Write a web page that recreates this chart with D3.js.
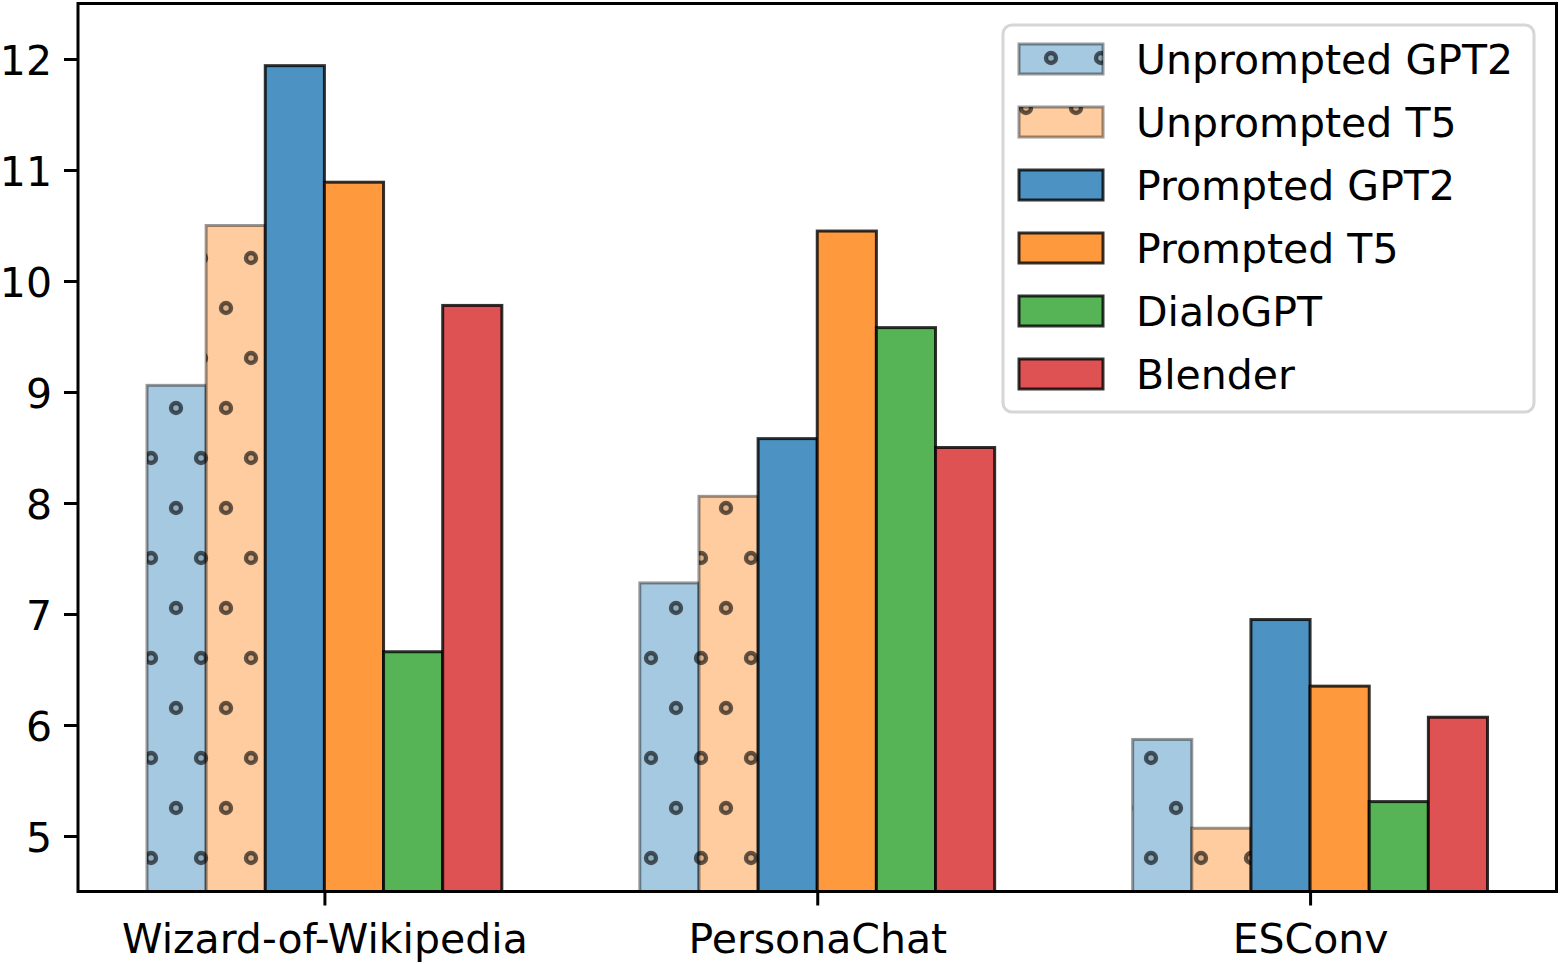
<!DOCTYPE html>
<html>
<head>
<meta charset="utf-8">
<script src="https://cdn.jsdelivr.net/npm/d3@7"></script>
<style>
    body { margin: 0; background: #fff; }
    svg { display: block; }
</style>
</head>
<body>
<script>
// #region DATA
var datasets = ["Wizard-of-Wikipedia", "PersonaChat", "ESConv"];
var models = ["Unprompted GPT2", "Unprompted T5", "Prompted GPT2", "Prompted T5", "DialoGPT", "Blender"];

var unpromptedGPT2 = [9.06, 7.28, 5.87];
var unpromptedT5   = [10.50, 8.06, 5.07];
var promptedGPT2   = [11.94, 8.58, 6.95];
var promptedT5     = [10.89, 10.45, 6.35];
var dialoGPT       = [6.66, 9.58, 5.31];
var blender        = [9.78, 8.50, 6.07];

var yTicks = [5, 6, 7, 8, 9, 10, 11, 12];
// #endregion

var seriesValues = [unpromptedGPT2, unpromptedT5, promptedGPT2, promptedT5, dialoGPT, blender];
var baseColors = ["#1f77b4", "#ff7f0e", "#1f77b4", "#ff7f0e", "#2ca02c", "#d62728"];
var hatched = [true, true, false, false, false, false];

// matplotlib alpha blended over white
var blend = function(hex, a) {
    var c = d3.rgb(hex);
    return d3.rgb(c.r * a + 255 * (1 - a), c.g * a + 255 * (1 - a), c.b * a + 255 * (1 - a)).formatHex();
};

var series = models.map(function(m, i) {
    return {
        name: m,
        i: i,
        values: seriesValues[i],
        fill: blend(baseColors[i], hatched[i] ? 0.4 : 0.8),
        edgeOpacity: hatched[i] ? 0.4 : 0.8,
        hatch: hatched[i]
    };
});

// #region SETUP
var width = 1560, height = 964;
var plotLeft = 78, plotRight = 1556.5, plotTop = 3.5, plotBottom = 891.5;
var font = "'DejaVu Sans', sans-serif";
var fontSize = "41px";

var svg = d3.select("body")
    .append("svg")
    .attr("width", width)
    .attr("height", height);

// dotted hatch, anchored to the figure
var defs = svg.append("defs");
var pat = defs.append("pattern")
    .attr("id", "dots")
    .attr("patternUnits", "userSpaceOnUse")
    .attr("x", 126)
    .attr("y", 783)
    .attr("width", 50)
    .attr("height", 100);

[[25, 75], [0, 25], [50, 25], [25, -25], [25, 175]].forEach(function(p) {
    pat.append("circle")
        .attr("cx", p[0])
        .attr("cy", p[1])
        .attr("r", 5)
        .attr("fill", "#000")
        .attr("fill-opacity", 0.15)
        .attr("stroke", "#000")
        .attr("stroke-opacity", 0.6)
        .attr("stroke-width", 4.4);
});

var x = d3.scaleLinear()
    .domain([-0.5, 2.5])
    .range([plotLeft, plotRight]);

var y = d3.scaleLinear()
    .domain([4.5, 12.5])
    .range([plotBottom, plotTop]);

var barW = 0.12;
// #endregion

// #region BARS
var clip = defs.append("clipPath").attr("id", "plot-clip");
clip.append("rect")
    .attr("x", plotLeft)
    .attr("y", plotTop)
    .attr("width", plotRight - plotLeft)
    .attr("height", plotBottom - plotTop);

var bars = svg.append("g")
    .attr("clip-path", "url(#plot-clip)");

series.forEach(function(s) {
    var g = bars.append("g");
    var data = s.values.map(function(v, j) {
        return {x0: j + (s.i - 3) * barW, v: v};
    });

    g.selectAll("rect.fill")
        .data(data)
        .enter()
        .append("rect")
            .attr("class", "fill")
            .attr("x", d => x(d.x0))
            .attr("y", d => y(d.v))
            .attr("width", d => x(d.x0 + barW) - x(d.x0))
            .attr("height", d => y(4.5) - y(d.v) + 10)
            .attr("fill", s.fill);

    if (s.hatch) {
        g.selectAll("rect.hatch")
            .data(data)
            .enter()
            .append("rect")
                .attr("class", "hatch")
                .attr("x", d => x(d.x0))
                .attr("y", d => y(d.v))
                .attr("width", d => x(d.x0 + barW) - x(d.x0))
                .attr("height", d => y(4.5) - y(d.v) + 10)
                .attr("fill", "url(#dots)");
    }

    g.selectAll("rect.edge")
        .data(data)
        .enter()
        .append("rect")
            .attr("class", "edge")
            .attr("x", d => x(d.x0))
            .attr("y", d => y(d.v))
            .attr("width", d => x(d.x0 + barW) - x(d.x0))
            .attr("height", d => y(4.5) - y(d.v) + 10)
            .attr("fill", "none")
            .attr("stroke", "#000")
            .attr("stroke-opacity", s.edgeOpacity)
            .attr("stroke-width", 3);
});
// #endregion

// #region AXES
var yAxis = svg.append("g")
    .attr("transform", "translate(" + plotLeft + ",0)")
    .call(d3.axisLeft(y).tickValues(yTicks).tickSize(14).tickPadding(12).tickSizeOuter(0));

var xAxis = svg.append("g")
    .attr("transform", "translate(0," + plotBottom + ")")
    .call(d3.axisBottom(x).tickValues([0, 1, 2]).tickFormat(d => datasets[d]).tickSize(14).tickPadding(18).tickSizeOuter(0));

[yAxis, xAxis].forEach(function(ax) {
    ax.select(".domain").remove();
    ax.selectAll(".tick line")
        .attr("stroke", "#000")
        .attr("stroke-width", 3);
    ax.selectAll(".tick text")
        .attr("fill", "#000")
        .style("font-family", font)
        .style("font-size", fontSize);
});
yAxis.selectAll(".tick text").attr("dy", "0.37em");

// frame
svg.append("rect")
    .attr("x", plotLeft)
    .attr("y", plotTop)
    .attr("width", plotRight - plotLeft)
    .attr("height", plotBottom - plotTop)
    .attr("fill", "none")
    .attr("stroke", "#000")
    .attr("stroke-width", 3);
// #endregion

// #region LEGEND
var legend = svg.append("g").attr("id", "legend");

legend.append("rect")
    .attr("x", 1003)
    .attr("y", 25)
    .attr("width", 531)
    .attr("height", 387)
    .attr("rx", 9)
    .attr("fill", "#fff")
    .attr("fill-opacity", 0.8)
    .attr("stroke", "#d6d6d6")
    .attr("stroke-width", 3);

var rows = legend.selectAll("g.row")
    .data(series)
    .enter()
    .append("g")
        .attr("class", "row");

var rowY = d => 59 + 63 * d.i;

rows.append("rect")
    .attr("x", 1019)
    .attr("y", d => rowY(d) - 15)
    .attr("width", 84)
    .attr("height", 30)
    .attr("fill", d => d.fill);

rows.filter(d => d.hatch)
    .append("rect")
    .attr("x", 1019)
    .attr("y", d => rowY(d) - 15)
    .attr("width", 84)
    .attr("height", 30)
    .attr("fill", "url(#dots)");

rows.append("rect")
    .attr("x", 1019)
    .attr("y", d => rowY(d) - 15)
    .attr("width", 84)
    .attr("height", 30)
    .attr("fill", "none")
    .attr("stroke", "#000")
    .attr("stroke-opacity", d => d.edgeOpacity)
    .attr("stroke-width", 3);

rows.append("text")
    .text(d => d.name)
    .attr("x", 1136)
    .attr("y", rowY)
    .attr("dy", "0.37em")
    .attr("fill", "#000")
    .style("font-family", font)
    .style("font-size", fontSize);
// #endregion
</script>
</body>
</html>
